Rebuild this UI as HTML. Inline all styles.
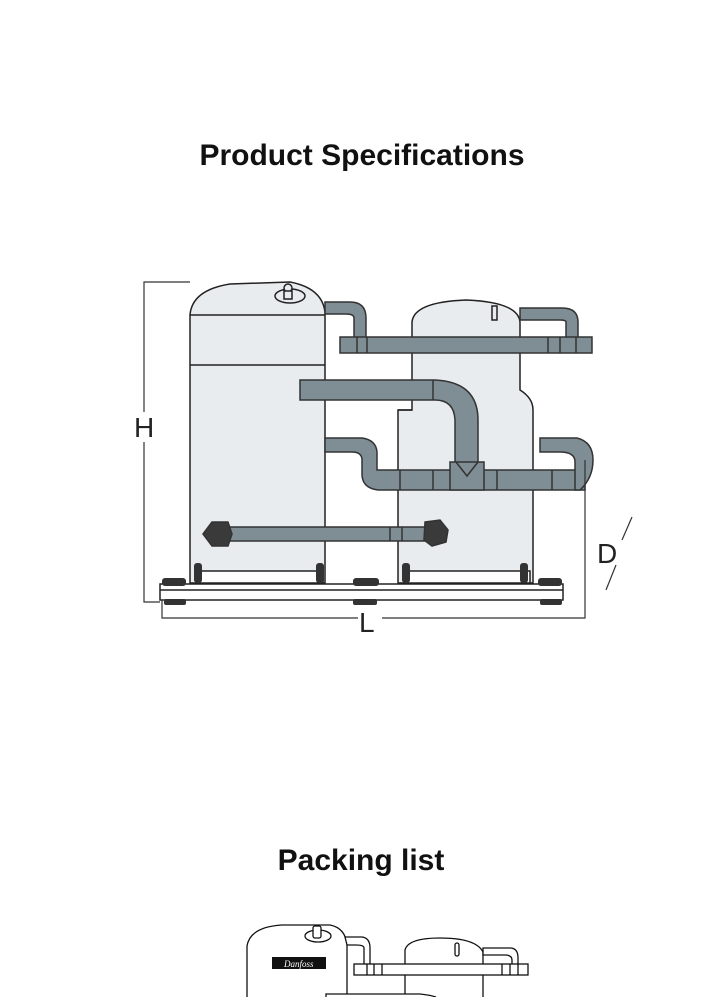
<!DOCTYPE html>
<html><head><meta charset="utf-8"><style>
body{margin:0;background:#fff;width:728px;height:997px;overflow:hidden;position:relative;font-family:"Liberation Sans",sans-serif}
h1{position:absolute;left:0;width:728px;text-align:center;margin:0;font-size:30px;font-weight:bold;color:#111}
svg{position:absolute;left:0;top:0}
</style></head><body>
<h1 style="top:139px;left:-2px">Product Specifications</h1>
<h1 style="top:844px;left:-3px">Packing list</h1>
<svg width="728" height="997" viewBox="0 0 728 997">
<g stroke="#222" stroke-width="1.5" fill="#e9ecef">
<path d="M412 410 L412 322 Q414 302 466 300 Q518 302 520 322 L520 390 Q533 398 533 410 L533 583 L398 583 L398 410 Z"/>
<line x1="398" y1="410" x2="412" y2="410"/>
<path d="M190 583 L190 315 Q192 290 230 284 L290 282 Q322 288 325 312 L325 583 Z"/>
<line x1="190" y1="315" x2="325" y2="315"/>
<line x1="190" y1="365" x2="325" y2="365"/>
<ellipse cx="290" cy="296" rx="15" ry="7" fill="#e9ecef"/>
<circle cx="288" cy="288" r="4"/>
<rect x="284" y="291" width="8" height="8"/>
<rect x="492" y="306" width="5" height="14"/>
</g>
<g stroke="#333" stroke-width="1.5" fill="#7f8d94">
<path d="M325 302 L350 302 Q366 302 366 318 L366 340 L354 340 L354 318 Q354 314 346 314 L325 314 Z"/>
<path d="M520 308 L562 308 Q578 308 578 322 L578 340 L566 340 L566 322 Q566 320 560 320 L520 320 Z"/>
<rect x="340" y="337" width="252" height="16"/>
<line x1="357" y1="337" x2="357" y2="353"/><line x1="367" y1="337" x2="367" y2="353"/>
<line x1="548" y1="337" x2="548" y2="353"/><line x1="560" y1="337" x2="560" y2="353"/><line x1="576" y1="337" x2="576" y2="353"/>
<path d="M300 380 L435 380 Q478 382 478 420 L478 470 L455 470 L455 420 Q454 400 435 400 L300 400 Z"/>
<line x1="433" y1="380" x2="433" y2="400"/>
<path d="M325 438 L362 438 Q376 440 377 452 L377 470 L585 470 L585 490 L378 490 Q362 488 362 474 L362 460 Q362 452 352 452 L325 452 Z"/>
<path d="M540 438 L577 438 Q593 442 593 460 Q593 478 580 490 L575 490 L575 462 Q575 452 560 452 L540 452 Z"/>
<rect x="450" y="462" width="34" height="28"/>
<path d="M456 462 L467 476 L478 462" fill="none"/>
<line x1="433" y1="470" x2="433" y2="490"/><line x1="497" y1="470" x2="497" y2="490"/><line x1="400" y1="470" x2="400" y2="490"/><line x1="552" y1="470" x2="552" y2="490"/>
<rect x="210" y="527" width="228" height="14"/>
<path d="M203 534 L212 522 L228 522 L232 534 L228 546 L212 546 Z" fill="#3a3a3a"/>
<path d="M425 522 L440 520 L448 530 L446 542 L432 546 L424 540 Z" fill="#3a3a3a"/>
<line x1="390" y1="527" x2="390" y2="541"/><line x1="402" y1="527" x2="402" y2="541"/>
</g>
<g stroke="#222" stroke-width="1.5" fill="#fff">
<rect x="199" y="571" width="124" height="12"/>
<rect x="406" y="571" width="124" height="12"/>
<rect x="160" y="584" width="403" height="16"/>
<line x1="160" y1="590" x2="563" y2="590"/>
</g>
<g fill="#333">
<rect x="162" y="578" width="24" height="8" rx="3"/><rect x="353" y="578" width="26" height="8" rx="3"/><rect x="538" y="578" width="24" height="8" rx="3"/>
<rect x="164" y="599" width="22" height="6" rx="2"/><rect x="353" y="599" width="24" height="6" rx="2"/><rect x="540" y="599" width="22" height="6" rx="2"/>
<rect x="194" y="563" width="8" height="20" rx="3"/><rect x="316" y="563" width="8" height="20" rx="3"/>
<rect x="402" y="563" width="8" height="20" rx="3"/><rect x="520" y="563" width="8" height="20" rx="3"/>
</g>
<g stroke="#333" stroke-width="1.2" fill="none">
<path d="M190 282 L144 282 L144 412 M144 442 L144 602 L160 602"/>
<path d="M162 600 L162 618 L358 618 M382 618 L585 618 L585 460"/>
<line x1="632" y1="517" x2="622" y2="540"/><line x1="616" y1="565" x2="606" y2="590"/>
</g>
<g font-family="Liberation Sans,sans-serif" font-size="28" fill="#222">
<text x="134" y="437">H</text><text x="359" y="632">L</text><text x="597" y="563">D</text>
</g>
<g stroke="#111" stroke-width="1.3" fill="#fff">
<path d="M405 997 L405 950 Q408 938 440 938 Q476 938 483 952 L483 997"/>
<path d="M483 948 L510 948 Q518 948 518 958 L518 966 L512 966 L512 960 Q512 955 505 955 L483 955 Z"/>
<rect x="455" y="943" width="4" height="13" rx="2"/>
<path d="M247 997 L247 946 Q250 927 282 925 L330 925 Q345 928 347 944 L347 997"/>
<path d="M345 937 L362 937 Q370 938 370 948 L370 966 L364 966 L364 948 Q364 945 356 945 L347 945 Z"/>
<ellipse cx="318" cy="936" rx="13" ry="6"/>
<rect x="313" y="926" width="8" height="12" rx="2"/>
<rect x="354" y="964" width="174" height="11"/>
<line x1="367" y1="964" x2="367" y2="975"/><line x1="374" y1="964" x2="374" y2="975"/><line x1="382" y1="964" x2="382" y2="975"/>
<line x1="502" y1="964" x2="502" y2="975"/><line x1="510" y1="964" x2="510" y2="975"/><line x1="518" y1="964" x2="518" y2="975"/>
<path d="M326 997 L326 994 L420 994 Q430 995 436 997"/>
</g>
<rect x="272" y="957" width="54" height="12" fill="#111"/>
<text x="284" y="967" font-family="Liberation Serif,serif" font-style="italic" font-size="9" fill="#fff">Danfoss</text>
</svg>
</body></html>
